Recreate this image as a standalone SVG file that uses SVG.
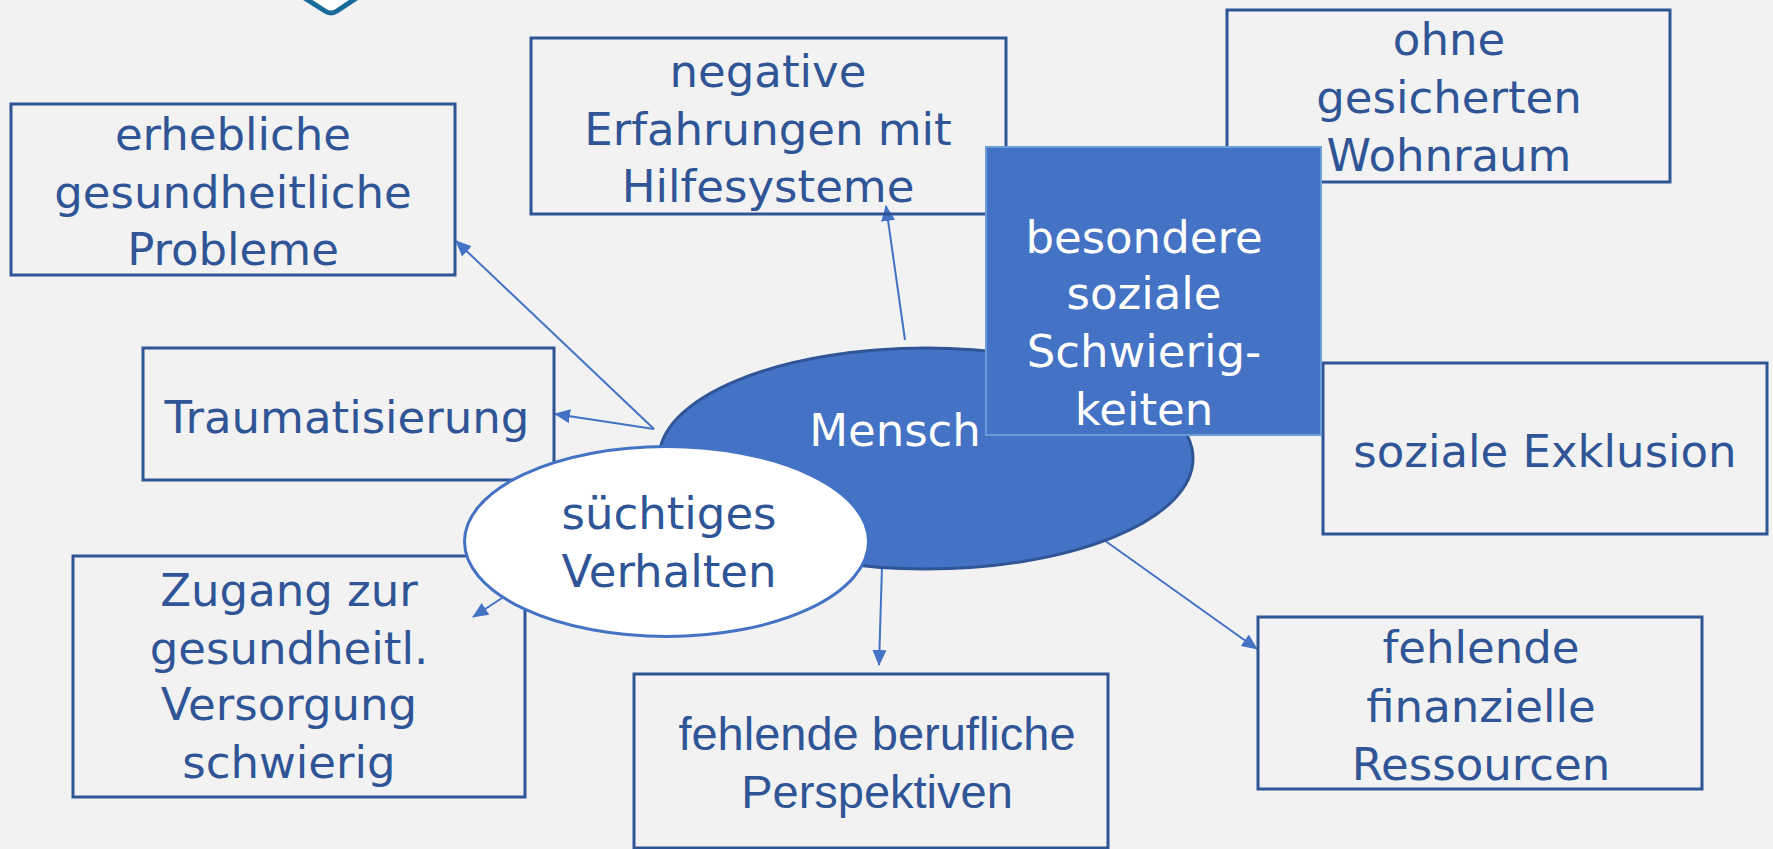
<svg xmlns="http://www.w3.org/2000/svg" width="1773" height="849" viewBox="0 0 1773 849">
<style>
.box{fill:none;stroke:#2f5597;stroke-width:3}
.t{font-family:"DejaVu Sans","Liberation Sans",sans-serif;font-size:45px;fill:#2f5597;text-anchor:middle}
.w{fill:#ffffff}
.a{font-family:"Liberation Sans",Arial,sans-serif;font-size:47px;fill:#2f5597;text-anchor:middle}
.c{stroke:#4472c4;stroke-width:2;fill:none;marker-end:url(#ah)}
</style>
<defs>
<marker id="ah" viewBox="0 0 16 14" refX="15" refY="7" markerWidth="16" markerHeight="14" markerUnits="userSpaceOnUse" orient="auto">
<path d="M0,0 L16,7 L0,14 z" fill="#4472c4"/>
</marker>
</defs>
<rect x="0" y="0" width="1773" height="849" fill="#f2f2f2"/>
<g id="logo">
<path d="M303,-3 L325,11 Q331,15 337,11 L358,-3" fill="#ffffff" stroke="#176b9b" stroke-width="5" stroke-linejoin="round" stroke-linecap="round"/>
</g>
<g id="connectors">
<line class="c" x1="654" y1="429" x2="456" y2="241"/>
<line class="c" x1="654" y1="429" x2="555" y2="414"/>
<line class="c" x1="905" y1="340" x2="886" y2="206"/>
<line class="c" x1="502" y1="598" x2="473" y2="617"/>
<line class="c" x1="882" y1="566" x2="879" y2="665"/>
<line class="c" x1="1104" y1="540" x2="1257" y2="649"/>
<line class="c" x1="1230" y1="432" x2="1322" y2="429"/>
</g>
<g id="n-erhebliche">
<rect class="box" x="11" y="104" width="444" height="171"/>
<text class="t" x="233" y="150">erhebliche</text>
<text class="t" x="233" y="208">gesundheitliche</text>
<text class="t" x="233" y="265">Probleme</text>
</g>
<g id="n-negative">
<rect class="box" x="531" y="38" width="475" height="176"/>
<text class="t" x="768" y="87">negative</text>
<text class="t" x="768" y="145">Erfahrungen mit</text>
<text class="t" x="768" y="202">Hilfesysteme</text>
</g>
<g id="n-ohne">
<rect class="box" x="1227" y="10" width="443" height="172"/>
<text class="t" x="1449" y="55">ohne</text>
<text class="t" x="1449" y="113">gesicherten</text>
<text class="t" x="1449" y="171">Wohnraum</text>
</g>
<g id="n-trauma">
<rect class="box" x="143" y="348" width="411" height="132"/>
<text class="t" x="347" y="433">Traumatisierung</text>
</g>
<g id="n-zugang">
<rect class="box" x="73" y="556" width="452" height="241"/>
<text class="t" x="289" y="606">Zugang zur</text>
<text class="t" x="289" y="664">gesundheitl.</text>
<text class="t" x="289" y="720">Versorgung</text>
<text class="t" x="289" y="778">schwierig</text>
</g>
<g id="n-beruflich">
<rect class="box" x="634" y="674" width="474" height="174"/>
<text class="a" x="877" y="750">fehlende berufliche</text>
<text class="a" x="877" y="808">Perspektiven</text>
</g>
<g id="n-finanziell">
<rect class="box" x="1258" y="617" width="444" height="172"/>
<text class="t" x="1481" y="663">fehlende</text>
<text class="t" x="1481" y="722">finanzielle</text>
<text class="t" x="1481" y="780">Ressourcen</text>
</g>
<g id="n-exklusion">
<rect class="box" x="1323" y="363" width="444" height="171"/>
<text class="t" x="1545" y="467">soziale Exklusion</text>
</g>
<g id="n-mensch">
<ellipse cx="926" cy="458.5" rx="267" ry="110.5" fill="#4472c4" stroke="#2f5597" stroke-width="3"/>
<text class="t w" x="895" y="446">Mensch</text>
</g>
<g id="n-besondere">
<rect x="986" y="147" width="335" height="288" fill="#4472c4" stroke="#6b9ed8" stroke-width="2"/>
<text class="t w" x="1144" y="253">besondere</text>
<text class="t w" x="1144" y="309">soziale</text>
<text class="t w" x="1144" y="367">Schwierig-</text>
<text class="t w" x="1144" y="425">keiten</text>
</g>
<g id="n-suechtig">
<ellipse cx="666.5" cy="541.5" rx="202" ry="95" fill="#ffffff" stroke="#4472c4" stroke-width="3"/>
<text class="t" x="669" y="529">süchtiges</text>
<text class="t" x="669" y="587">Verhalten</text>
</g>
</svg>
